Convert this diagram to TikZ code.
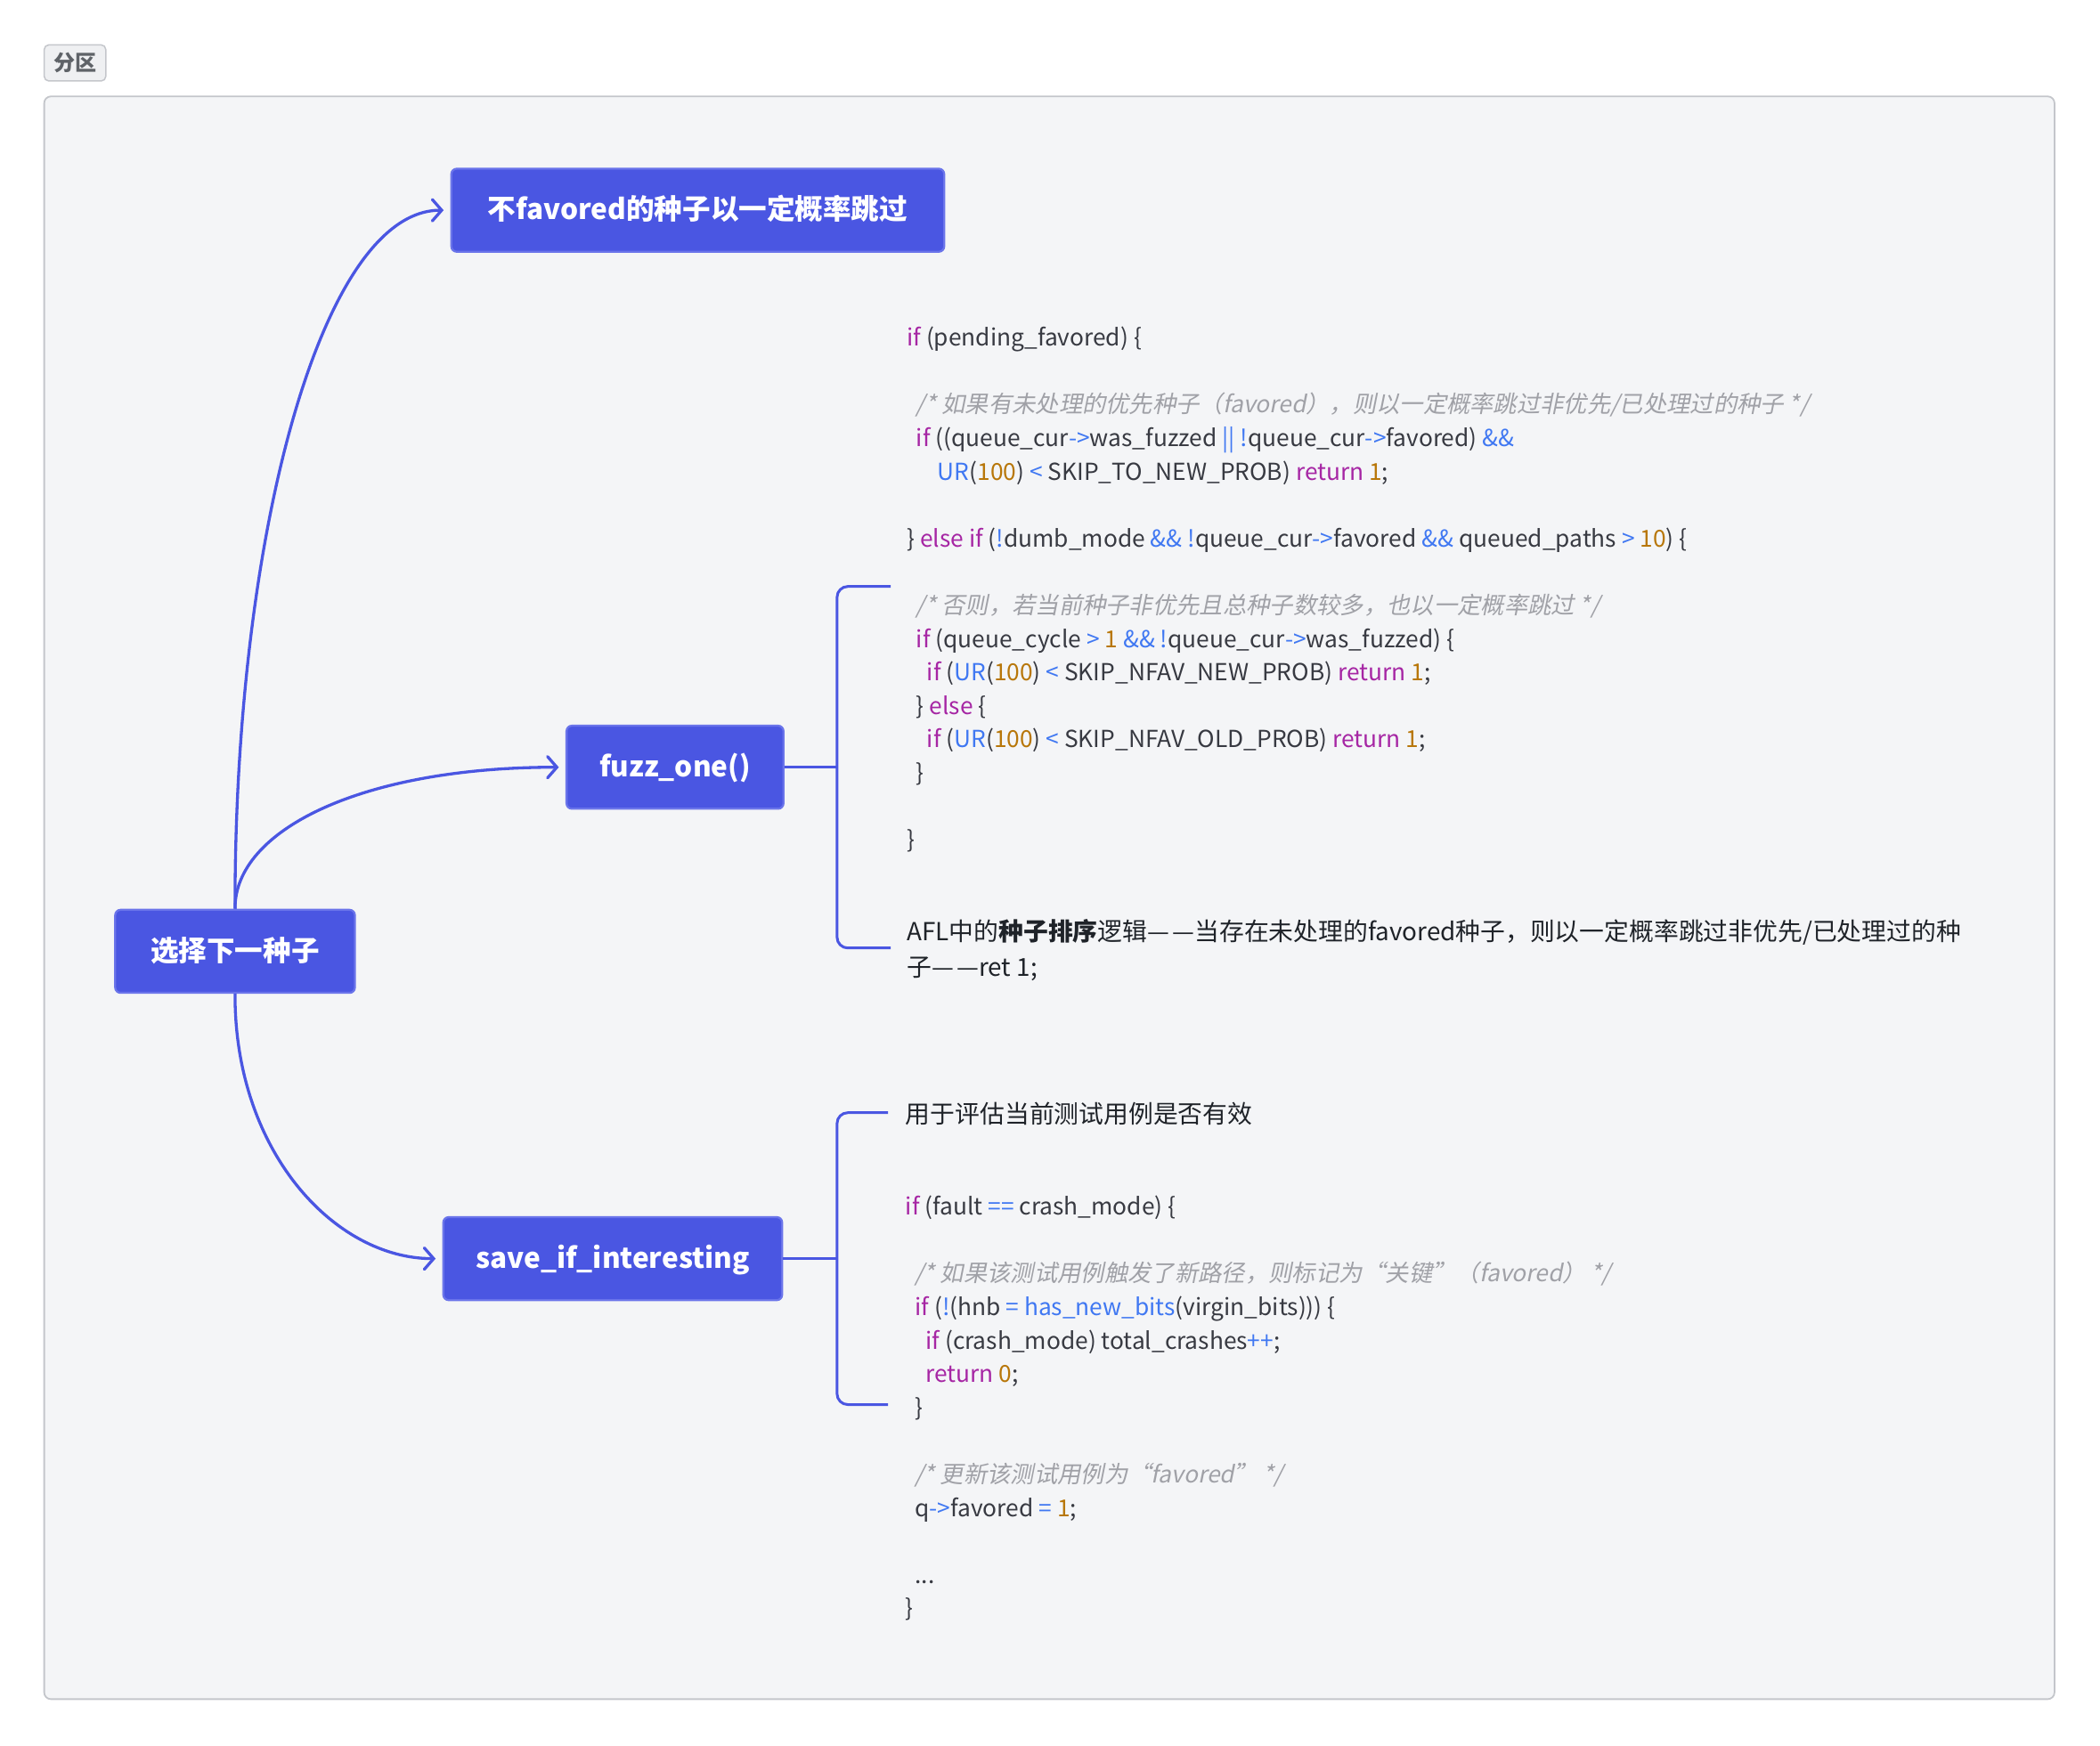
\documentclass[tikz,border=0pt]{standalone}
\usepackage{fontspec}
\setmainfont{Noto Sans CJK SC}
\newfontfamily\cmtfont[FakeSlant=0.2]{Noto Sans CJK SC}
\usetikzlibrary{arrows.meta}

\definecolor{nodeblue}{HTML}{4A56E2}
\definecolor{nodeedge}{HTML}{6A74EA}
\definecolor{framefill}{HTML}{F4F5F7}
\definecolor{frameedge}{HTML}{C4C6CB}
\definecolor{tagfill}{HTML}{EFF0F2}
\definecolor{tagtext}{HTML}{5F6368}
\definecolor{codetext}{HTML}{383A42}
\definecolor{kwpurple}{HTML}{A626A4}
\definecolor{opblue}{HTML}{4078F2}
\definecolor{numorange}{HTML}{B8770A}
\definecolor{cmtgray}{HTML}{A0A1A7}
\definecolor{desctext}{HTML}{1F2329}

\newcommand{\kwd}[1]{\textcolor{kwpurple}{#1}}
\newcommand{\opr}[1]{\textcolor{opblue}{#1}}
\newcommand{\numb}[1]{\textcolor{numorange}{#1}}
\newcommand{\cmnt}[1]{{\cmtfont\color{cmtgray}#1}}
\newcommand{\dashes}{—\hspace{0.12em}—}

\tikzset{
  topic/.style={draw=nodeedge, line width=1.5pt, fill=nodeblue, rounded corners=4pt,
    text=white, font=\fontsize{21}{24}\selectfont\bfseries, minimum height=62pt, inner sep=0pt,
    text height=1.4em, text depth=0pt},
  link/.style={draw=nodeblue, line width=2.2pt, -{Straight Barb[length=7pt,width=16pt,line cap=round]}, shorten >=5pt},
  brace/.style={draw=nodeblue, line width=2pt, rounded corners=8pt},
  code/.style={anchor=north west, inner sep=0pt, align=left, text=codetext,
    font=\fontsize{17.5}{25}\selectfont},
  desc/.style={anchor=north west, inner sep=0pt, align=left, text=desctext,
    font=\fontsize{18.5}{27}\selectfont},
}

\begin{document}
\begin{tikzpicture}[x=1pt,y=-1pt]
  \useasboundingbox (0,0) rectangle (1568,1304);

  % section frame and its tag
  \draw[frameedge, fill=framefill, line width=1.2pt, rounded corners=5pt] (33,72) rectangle (1534,1269);
  \node[draw=frameedge, fill=tagfill, rounded corners=3.5pt, line width=1pt,
    minimum width=46pt, minimum height=27pt, inner sep=0pt, text=tagtext,
    font=\fontsize{16}{18}\selectfont\bfseries] (tag) at (56,47) {分区};

  % topics
  \node[topic, minimum width=179pt] (pick) at (175.5,710.5) {选择下一种子};
  \node[topic, minimum width=368pt] (nofav) at (521,157) {不favored的种子以一定概率跳过};
  \node[topic, minimum width=162pt] (fuzz) at (504,573) {fuzz\_one()};
  \node[topic, minimum width=253pt] (save) at (457.5,940) {save\_if\_interesting};

  \draw[link] (pick.north) .. controls (175,400) and (240,157) .. (nofav.west);
  \draw[link] (pick.north) .. controls (175,620) and (270,573) .. (fuzz.west);
  \draw[link] (pick.south) .. controls (175,860) and (250,940) .. (save.west);

  % brackets towards the notes
  \coordinate (fuzzbr) at (625,573);
  \coordinate (savebr) at (625,940);
  \draw[brace] (fuzz.east) -- (fuzzbr);
  \draw[brace] (665,438) -- (625,438) -- (625,708) -- (665,708);
  \draw[brace] (save.east) -- (savebr);
  \draw[brace] (663,831) -- (625,831) -- (625,1049) -- (663,1049);

  \node[code] (fuzzcode) at (677,244) {%
    \kwd{if} (pending\_favored) \{\\[25pt]
    \hspace*{7pt}\cmnt{/* 如果有未处理的优先种子（favored），则以一定概率跳过非优先/已处理过的种子 */}\\
    \hspace*{7pt}\kwd{if} ((queue\_cur\opr{->}was\_fuzzed \opr{||} \opr{!}queue\_cur\opr{->}favored) \opr{\&\&}\\
    \hspace*{23pt}\opr{UR}(\numb{100}) \opr{<} SKIP\_TO\_NEW\_PROB) \kwd{return} \numb{1};\\[25pt]
    \} \kwd{else if} (\opr{!}dumb\_mode \opr{\&\&} \opr{!}queue\_cur\opr{->}favored \opr{\&\&} queued\_paths \opr{>} \numb{10}) \{\\[25pt]
    \hspace*{7pt}\cmnt{/* 否则，若当前种子非优先且总种子数较多，也以一定概率跳过 */}\\
    \hspace*{7pt}\kwd{if} (queue\_cycle \opr{>} \numb{1} \opr{\&\& !}queue\_cur\opr{->}was\_fuzzed) \{\\
    \hspace*{15pt}\kwd{if} (\opr{UR}(\numb{100}) \opr{<} SKIP\_NFAV\_NEW\_PROB) \kwd{return} \numb{1};\\
    \hspace*{7pt}\} \kwd{else} \{\\
    \hspace*{15pt}\kwd{if} (\opr{UR}(\numb{100}) \opr{<} SKIP\_NFAV\_OLD\_PROB) \kwd{return} \numb{1};\\
    \hspace*{7pt}\}\\[25pt]
    \}};
  \node[desc] (fuzzdesc) at (677,686) {%
    AFL中的\textbf{种子排序}逻辑\dashes 当存在未处理的favored种子，则以一定概率跳过非优先/已处理过的种\\
    子\dashes ret 1;};

  \node[desc] (savedesc) at (676,823) {用于评估当前测试用例是否有效};
  \node[code] (savecode) at (676,893) {%
    \kwd{if} (fault \opr{==} crash\_mode) \{\\[25pt]
    \hspace*{7pt}\cmnt{/* 如果该测试用例触发了新路径，则标记为“关键”（favored） */}\\
    \hspace*{7pt}\kwd{if} (\opr{!}(hnb \opr{=} \opr{has\_new\_bits}(virgin\_bits))) \{\\
    \hspace*{15pt}\kwd{if} (crash\_mode) total\_crashes\opr{++};\\
    \hspace*{15pt}\kwd{return} \numb{0};\\
    \hspace*{7pt}\}\\[25pt]
    \hspace*{7pt}\cmnt{/* 更新该测试用例为“favored” */}\\
    \hspace*{7pt}q\opr{->}favored \opr{=} \numb{1};\\[25pt]
    \hspace*{7pt}...\\
    \}};
\end{tikzpicture}
\end{document}
